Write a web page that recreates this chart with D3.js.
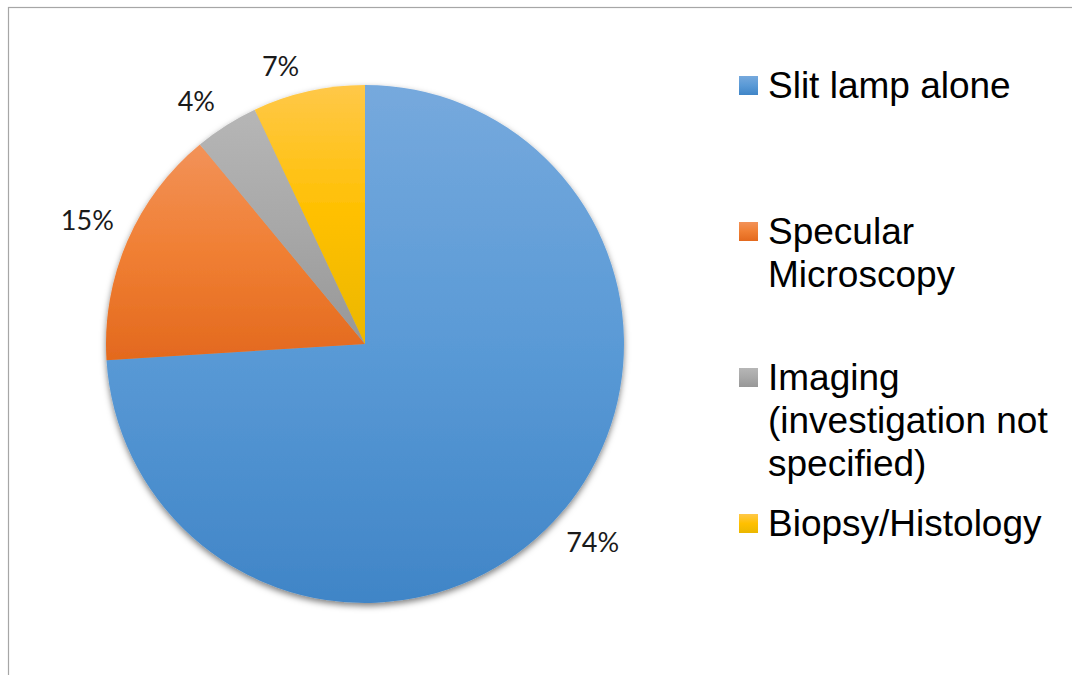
<!DOCTYPE html>
<html>
<head>
<meta charset="utf-8">
<script src="https://cdn.jsdelivr.net/npm/d3@7/dist/d3.min.js"></script>
<style>
  html, body { margin: 0; padding: 0; background: #ffffff; }
  svg { display: block; }
</style>
</head>
<body>
<svg id="chart" width="1072" height="675"></svg>
<script>
// Diagnostic method shares (percent), clockwise from 12 o'clock
const categories = ["Slit lamp alone", "Specular Microscopy", "Imaging (investigation not specified)", "Biopsy/Histology"];
const legendLines = [["Slit lamp alone"], ["Specular", "Microscopy"], ["Imaging", "(investigation not", "specified)"], ["Biopsy/Histology"]];
const values = [74, 15, 4, 7];
const valueLabels = ["74%", "15%", "4%", "7%"];

// Vertical gradient stops per slice: light top, base middle, shaded bottom
const colorTop = ["#76a9dd", "#f29259", "#b6b6b6", "#ffc849"];
const colorMid = ["#5a9ad6", "#f07f33", "#a8a8a8", "#ffc000"];
const colorBot = ["#4085c7", "#e3691e", "#979797", "#ebb700"];

const svg = d3.select("#chart");
const W = 1072, H = 675;

// Chart frame
svg.append("rect")
  .attr("x", 8.5).attr("y", 7.5)
  .attr("width", W + 20).attr("height", H + 20)
  .attr("fill", "#ffffff")
  .attr("stroke", "#a6a6a6")
  .attr("stroke-width", 1.2);

const defs = svg.append("defs");

const shadow = defs.append("filter")
  .attr("id", "pieShadow")
  .attr("x", "-10%").attr("y", "-10%")
  .attr("width", "120%").attr("height", "120%");
shadow.append("feDropShadow")
  .attr("dx", 0).attr("dy", 3)
  .attr("stdDeviation", 3)
  .attr("flood-color", "#000")
  .attr("flood-opacity", 0.5);

categories.forEach((c, i) => {
  const g = defs.append("linearGradient")
    .attr("id", "grad" + i)
    .attr("x1", 0).attr("y1", 0).attr("x2", 0).attr("y2", 1);
  g.append("stop").attr("offset", "0%").attr("stop-color", colorTop[i]);
  g.append("stop").attr("offset", "50%").attr("stop-color", colorMid[i]);
  g.append("stop").attr("offset", "100%").attr("stop-color", colorBot[i]);
});

// Pie geometry
const cx = 365, cy = 344, radius = 259;

const pie = d3.pie()
  .sort(null)
  .value(d => d)
  .startAngle(0)
  .endAngle(2 * Math.PI);

const arcs = pie(values);
const arc = d3.arc().innerRadius(0).outerRadius(radius);

const pieG = svg.append("g")
  .attr("transform", `translate(${cx},${cy})`);

pieG.append("g")
  .attr("filter", "url(#pieShadow)")
  .selectAll("path")
  .data(arcs)
  .join("path")
  .attr("d", arc)
  .attr("fill", (d, i) => `url(#grad${i})`);

// Data labels placed outside the slice end, box corner anchored on the mid-angle ray
const labelFont = "Lato, 'Open Sans', 'DejaVu Sans', sans-serif";
const labelSize = 27;
const labelG = pieG.append("g");
arcs.forEach((a, i) => {
  const mid = (a.startAngle + a.endAngle) / 2;
  const ux = Math.sin(mid), uy = -Math.cos(mid);
  const t = labelG.append("text")
    .attr("font-family", labelFont)
    .attr("font-size", labelSize)
    .attr("fill", "#1a1a1a")
    .attr("text-anchor", "middle")
    .text(valueLabels[i]);
  const w = t.node().getComputedTextLength();
  const R = radius + 6;
  const halfW = w / 2 + 8, halfH = 18;
  const x = ux * R + Math.sign(ux) * halfW;
  const y = uy * R + Math.sign(uy) * halfH;
  t.attr("x", x).attr("y", y + labelSize * 0.33);
});

// Legend: entries evenly pitched down the right side
const legendX = 739, sw = 19, textX = 768;
const firstBaseline = 98, pitch = 146, lineH = 43;
const legendFont = "'Liberation Sans', Arial, Helvetica, sans-serif";

const legend = svg.append("g");
categories.forEach((c, i) => {
  const base = firstBaseline + i * pitch;
  legend.append("rect")
    .attr("x", legendX).attr("y", base - 22)
    .attr("width", sw).attr("height", sw)
    .attr("fill", `url(#grad${i})`);
  const t = legend.append("text")
    .attr("font-family", legendFont)
    .attr("font-size", 37)
    .attr("fill", "#000000");
  legendLines[i].forEach((line, j) => {
    t.append("tspan")
      .attr("x", textX)
      .attr("y", base + j * lineH)
      .text(line);
  });
});
</script>
</body>
</html>
